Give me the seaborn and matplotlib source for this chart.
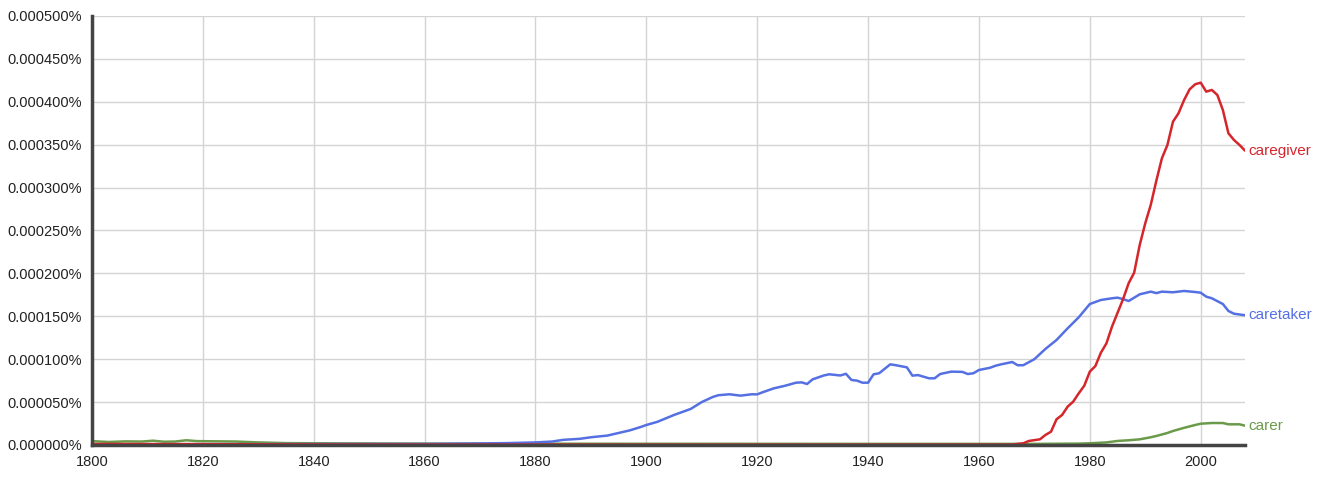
"""
Ngram-style frequency chart: caregiver / caretaker / carer, 1800-2008.
"""

import pandas as pd
import matplotlib
matplotlib.use("Agg")
import matplotlib.pyplot as plt
from matplotlib.ticker import FuncFormatter, MultipleLocator
import seaborn as sns

# values are in percent (0.000420 means 0.000420%)
caregiver_years = [1800, 1820, 1840, 1860, 1900, 1940, 1966, 1968, 1969, 1971, 1972,
                   1973, 1974, 1975, 1976, 1977, 1978, 1979, 1980, 1981, 1982, 1983,
                   1984, 1985, 1986, 1987, 1988, 1989, 1990, 1991, 1992, 1993, 1994,
                   1995, 1996, 1997, 1998, 1999, 2000, 2001, 2002, 2003, 2004, 2005,
                   2006, 2007, 2008]
caregiver_vals = [0.0000012, 0.0000010, 0.0000006, 0.0000005, 0.0000004, 0.0000004,
                  0.0000005, 0.0000020, 0.0000047, 0.0000066, 0.0000117, 0.0000155,
                  0.0000300, 0.0000350, 0.0000447, 0.0000505, 0.0000602, 0.0000691,
                  0.0000855, 0.0000920, 0.0001076, 0.0001185, 0.0001379, 0.0001540,
                  0.0001700, 0.0001885, 0.0002008, 0.0002331, 0.0002584, 0.0002800,
                  0.0003080, 0.0003341, 0.0003497, 0.0003768, 0.0003866, 0.0004020,
                  0.0004145, 0.0004204, 0.0004223, 0.0004118, 0.0004138, 0.0004080,
                  0.0003904, 0.0003633, 0.0003555, 0.0003497, 0.0003430]

caretaker_years = [1800, 1830, 1860, 1870, 1875, 1880, 1883, 1885, 1888, 1890, 1893,
                   1895, 1897, 1899, 1900, 1902, 1905, 1908, 1910, 1912, 1913, 1915,
                   1917, 1919, 1920, 1921, 1923, 1925, 1927, 1928, 1929, 1930, 1932,
                   1933, 1935, 1936, 1937, 1938, 1939, 1940, 1941, 1942, 1944, 1945,
                   1947, 1948, 1949, 1951, 1952, 1953, 1955, 1957, 1958, 1959, 1960,
                   1962, 1963, 1964, 1966, 1967, 1968, 1970, 1972, 1974, 1976, 1978,
                   1980, 1982, 1984, 1985, 1986, 1987, 1989, 1991, 1992, 1993, 1995,
                   1997, 1999, 2000, 2001, 2002, 2004, 2005, 2006, 2008]
caretaker_vals = [0.0000008, 0.0000010, 0.0000012, 0.0000018, 0.0000022, 0.0000030,
                  0.0000040, 0.0000060, 0.0000072, 0.0000090, 0.0000110, 0.0000140,
                  0.0000170, 0.0000210, 0.0000233, 0.0000270, 0.0000350, 0.0000420,
                  0.0000500, 0.0000560, 0.0000580, 0.0000591, 0.0000575, 0.0000591,
                  0.0000590, 0.0000615, 0.0000660, 0.0000690, 0.0000726, 0.0000730,
                  0.0000711, 0.0000765, 0.0000810, 0.0000824, 0.0000810, 0.0000830,
                  0.0000758, 0.0000750, 0.0000726, 0.0000726, 0.0000824, 0.0000836,
                  0.0000940, 0.0000930, 0.0000905, 0.0000808, 0.0000815, 0.0000777,
                  0.0000777, 0.0000827, 0.0000855, 0.0000852, 0.0000827, 0.0000836,
                  0.0000874, 0.0000900, 0.0000924, 0.0000940, 0.0000967, 0.0000929,
                  0.0000930, 0.0001000, 0.0001120, 0.0001224, 0.0001360, 0.0001488,
                  0.0001643, 0.0001690, 0.0001710, 0.0001717, 0.0001700, 0.0001678,
                  0.0001756, 0.0001787, 0.0001770, 0.0001787, 0.0001780, 0.0001795,
                  0.0001783, 0.0001775, 0.0001729, 0.0001710, 0.0001643, 0.0001562,
                  0.0001530, 0.0001512]

carer_years = [1800, 1803, 1806, 1809, 1811, 1813, 1815, 1817, 1819, 1822, 1826,
               1830, 1835, 1840, 1860, 1900, 1940, 1970, 1978, 1980, 1983, 1985,
               1987, 1989, 1991, 1992, 1994, 1995, 1997, 1999, 2000, 2002, 2004,
               2005, 2007, 2008]
carer_vals = [0.0000045, 0.0000035, 0.0000042, 0.0000040, 0.0000050, 0.0000038,
              0.0000040, 0.0000055, 0.0000045, 0.0000043, 0.0000040, 0.0000030,
              0.0000022, 0.0000020, 0.0000016, 0.0000014, 0.0000013, 0.0000013,
              0.0000016, 0.0000020, 0.0000030, 0.0000047, 0.0000055, 0.0000066,
              0.0000090, 0.0000105, 0.0000140, 0.0000163, 0.0000200, 0.0000233,
              0.0000248, 0.0000256, 0.0000256, 0.0000241, 0.0000241, 0.0000225]

series = [
    ("caregiver", caregiver_years, caregiver_vals, "#d5262c"),
    ("caretaker", caretaker_years, caretaker_vals, "#5570e2"),
    ("carer", carer_years, carer_vals, "#6b9b4a"),
]

sns.set_style("white")
plt.rcParams["font.family"] = ["Liberation Sans", "DejaVu Sans"]

fig = plt.figure(figsize=(13.21, 4.83), dpi=100)
ax = fig.add_axes([0.0696, 0.0787, 0.8729, 0.8882])

# draw carer first so red/blue sit on top near zero
for name, years, vals, color in reversed(series):
    df = pd.DataFrame({"year": years, "freq": vals})
    sns.lineplot(data=df, x="year", y="freq", color=color, linewidth=1.8, ax=ax)
    ax.text(years[-1] + 0.6, vals[-1], name, color=color, fontsize=11,
            va="center", ha="left")

ax.set_xlim(1800, 2008)
ax.set_ylim(0, 0.0005)
ax.xaxis.set_major_locator(MultipleLocator(20))
ax.yaxis.set_major_locator(MultipleLocator(0.00005))
ax.yaxis.set_major_formatter(FuncFormatter(lambda v, _: f"{v:.6f}%"))
ax.set_xlabel("")
ax.set_ylabel("")

ax.grid(True, color="#d4d4d4", linewidth=1.0)
ax.set_axisbelow(True)
for side in ["top", "right"]:
    ax.spines[side].set_visible(False)
for side in ["left", "bottom"]:
    ax.spines[side].set_color("#444444")
    ax.spines[side].set_linewidth(2.5)

ax.tick_params(axis="both", colors="#444444", labelcolor="#222222",
               labelsize=10.5, length=5, width=2, direction="out", pad=2)

fig.savefig("out.png", dpi=100)
plt.close()
